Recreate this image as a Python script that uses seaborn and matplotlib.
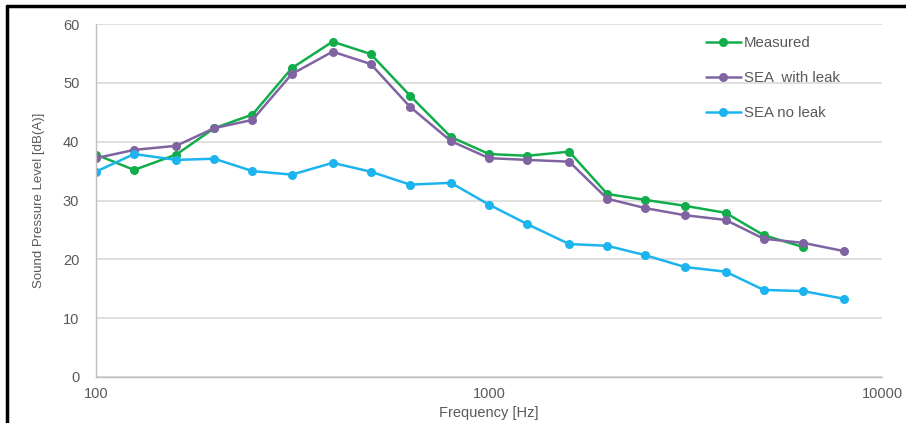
import matplotlib
matplotlib.use("Agg")
import matplotlib.pyplot as plt
import seaborn as sns
import pandas as pd
from matplotlib.lines import Line2D
from matplotlib.ticker import FixedLocator, NullLocator, FixedFormatter

freqs = [100, 125, 160, 200, 250, 315, 400, 500, 630, 800, 1000, 1250,
         1600, 2000, 2500, 3150, 4000, 5000, 6300, 8000]
measured = [37.8, 35.2, 37.8, 42.3, 44.6, 52.5, 57.0, 54.9, 47.8, 40.8, 37.9,
            37.6, 38.3, 31.1, 30.1, 29.1, 27.9, 24.1, 22.1, None]
sea_leak = [37.2, 38.6, 39.3, 42.3, 43.7, 51.5, 55.3, 53.2, 45.9, 40.1, 37.2,
            36.9, 36.6, 30.3, 28.7, 27.5, 26.7, 23.5, 22.8, 21.4]
sea_noleak = [34.9, 37.9, 36.9, 37.1, 35.0, 34.4, 36.4, 34.9, 32.7, 33.0, 29.3,
              26.0, 22.6, 22.3, 20.7, 18.7, 17.9, 14.8, 14.6, 13.3]
series_names = ["Measured", "SEA  with leak", "SEA no leak"]
colors = ["#12AD4B", "#8064A2", "#1CB4EE"]
xticks = [100, 1000, 10000]
yticks = [0, 10, 20, 30, 40, 50, 60]

rows = []
for name, vals in zip(series_names, [measured, sea_leak, sea_noleak]):
    for f, v in zip(freqs, vals):
        if v is not None:
            rows.append({"Frequency": f, "SPL": v, "Series": name})
df = pd.DataFrame(rows)

sns.set_theme(style="white")
plt.rcParams['font.family'] = ['Liberation Sans', 'DejaVu Sans']

fig = plt.figure(figsize=(9.06, 4.23), dpi=100)
ax = fig.add_axes([96/906, 1-377/423, (882-96)/906, (377-24)/423])

sns.lineplot(data=df, x="Frequency", y="SPL", hue="Series",
             hue_order=series_names, palette=colors, marker="o",
             markersize=6.5, markeredgewidth=0, linewidth=1.8, ax=ax,
             legend=True)

ax.set_xscale("log")
ax.set_xlim(100, 10000)
ax.set_ylim(0, 60)
ax.xaxis.set_major_locator(FixedLocator(xticks))
ax.xaxis.set_major_formatter(FixedFormatter([str(t) for t in xticks]))
ax.xaxis.set_minor_locator(NullLocator())
ax.set_yticks(yticks)
ax.yaxis.grid(True, color="#D9D9D9", linewidth=1.2)
ax.xaxis.grid(False)
ax.set_axisbelow(True)
for s in ["top", "right"]:
    ax.spines[s].set_visible(False)
ax.spines["left"].set_color("#BFBFBF")
ax.spines["bottom"].set_color("#BFBFBF")
ax.spines["left"].set_linewidth(1.0)
ax.spines["bottom"].set_linewidth(1.0)
ax.tick_params(axis="both", length=0, colors="#595959", labelsize=10.5)
ax.tick_params(axis="x", pad=7)
ax.tick_params(axis="y", pad=12)

ax.set_xlabel("Frequency [Hz]", color="#595959", fontsize=10.5, labelpad=4)
ax.set_ylabel("Sound Pressure Level [dB(A)]", color="#595959", fontsize=9.5, labelpad=13)

handles, labels = ax.get_legend_handles_labels()
leg = ax.legend(handles, labels, loc="upper left",
                bbox_to_anchor=(700/906, 1-30/423), bbox_transform=fig.transFigure,
                frameon=False, fontsize=10.8, labelspacing=1.4,
                handlelength=2.3, handletextpad=0.2, borderaxespad=0)
for t in leg.get_texts():
    t.set_color("#595959")

# figure frame lines (top and left)
fig.add_artist(Line2D([7/906, 1], [1-6/423, 1-6/423], transform=fig.transFigure,
                      color="black", linewidth=2.5))
fig.add_artist(Line2D([7/906, 7/906], [0, 1-6/423], transform=fig.transFigure,
                      color="black", linewidth=2.5))

fig.savefig("out.png", dpi=100)
